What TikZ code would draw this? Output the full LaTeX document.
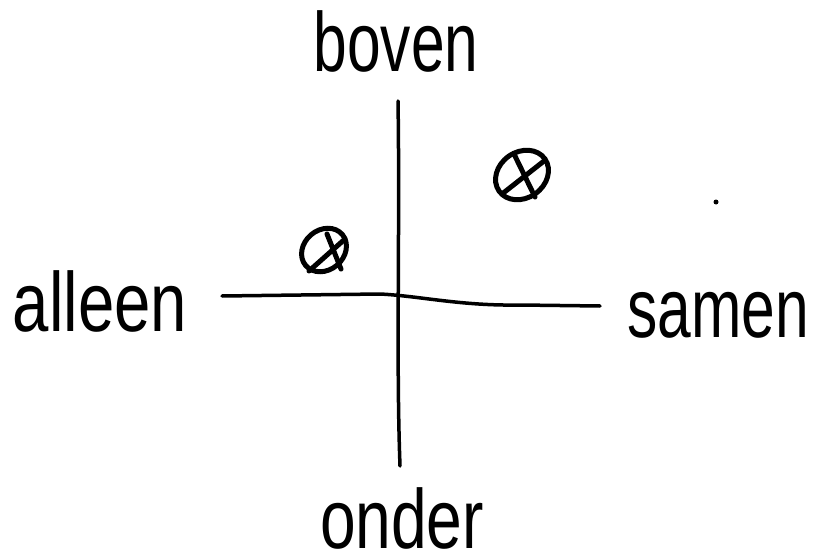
\documentclass[tikz,border=0pt]{standalone}
\usepackage{fontspec}
\setmainfont{Liberation Sans}
\usepackage{tikz}
\usetikzlibrary{calc}

\begin{document}
\begin{tikzpicture}[x=1pt,y=1pt,
  pen/.style={line width=3.5pt, line cap=round, line join=round},
  ring/.style={line width=5pt, line cap=round},
  word/.style={anchor=base, inner sep=0pt, xscale=0.72, transform shape,
    font=\fontsize{84}{90}\selectfont}]
\useasboundingbox (0,0) rectangle (813,558);
% labels of the four directions
\node[word] (boven) at (396,486) {boven};
\node[word, xscale=1.06] (onder) at (402,10) {onder};
\node[word, xscale=1.08] (alleen) at (100,227) {alleen};
\node[word] (samen) at (718,221) {samen};
% the two axes
\coordinate (top) at (398,457);
\coordinate (bottom) at (400,92);
\coordinate (left) at (222,262);
\coordinate (right) at (600,252);
\coordinate (mid) at (380,264);
\draw[pen] (top) .. controls (400,330) and (396,200) .. (bottom);
\draw[pen] (left) -- (mid) .. controls (420,262) and (460,252) .. (520,253) -- (right);
% the two marked points
\draw[ring, rotate around={35:(522,383)}] (522,383) ellipse (28 and 23);
\draw[ring] (502,364) -- (544,397);
\draw[ring] (514,404) -- (535,361);
\draw[ring, rotate around={40:(324,308)}] (324,308) ellipse (24 and 20);
\draw[ring] (309,287) -- (345,319);
\draw[ring] (327,324) -- (341,289);
\fill (716,356) circle (2.5);
\end{tikzpicture}
\end{document}
